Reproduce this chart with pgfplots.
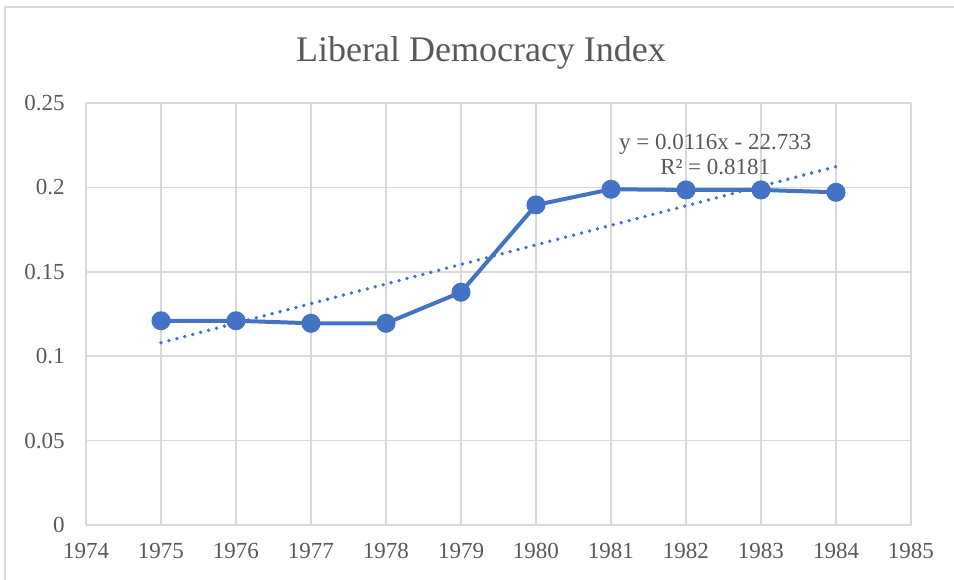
\documentclass[border=0pt]{standalone}
\usepackage{pgfplots}
\pgfplotsset{compat=1.18}
\usepackage{fontspec}
\setmainfont{Liberation Serif}
\definecolor{exblue}{HTML}{4472C4}
\definecolor{exgrid}{HTML}{D9D9D9}
\definecolor{extext}{HTML}{595959}
\begin{document}
\begin{tikzpicture}
\useasboundingbox (0,0) rectangle (477pt,289.5pt);
\draw[exgrid, line width=0.75pt] (2.5pt,-1pt) -- (2.5pt,286pt) -- (478pt,286pt);
\node[extext, font=\fontsize{18}{22}\selectfont, anchor=base, inner sep=0pt] at (240.5pt,258.5pt) {Liberal Democracy Index};
\begin{axis}[
  at={(43pt,27pt)}, anchor=south west,
  scale only axis,
  width=412.5pt, height=211pt,
  xmin=1974, xmax=1985, ymin=0, ymax=0.25,
  xtick={1974,1975,...,1985},
  xticklabels={1974,1975,1976,1977,1978,1979,1980,1981,1982,1983,1984,1985},
  ytick={0,0.05,0.1,0.15,0.2,0.25},
  yticklabels={0,0.05,0.1,0.15,0.2,0.25},
  grid=major,
  major grid style={exgrid, line width=0.75pt},
  axis line style={draw=none},
  major tick length=0pt,
  tick label style={font=\fontsize{11.5}{13}\selectfont, text=extext, inner sep=0pt},
  yticklabel style={anchor=east, xshift=-10.5pt},
  xticklabel style={anchor=north, yshift=-9pt},
  clip=false,
]
\addplot[exblue, line width=2pt, mark=*, mark size=3.75pt, mark options={fill=exblue, draw=exblue}]
  coordinates {(1975,0.1210) (1976,0.1210) (1977,0.1195) (1978,0.1195) (1979,0.1379)
               (1980,0.1896) (1981,0.1989) (1982,0.1985) (1983,0.1985) (1984,0.1971)};
\addplot[exblue, line width=1.9pt, line cap=round, dash pattern=on 0pt off 4.1pt]
  coordinates {(1975,0.1080) (1984,0.2123)};
\node[extext, font=\fontsize{11.5}{12.5}\selectfont, align=center] at (axis cs:1982.39,0.2195)
  {y = 0.0116x - 22.733\\R² = 0.8181};
\end{axis}
\end{tikzpicture}
\end{document}
